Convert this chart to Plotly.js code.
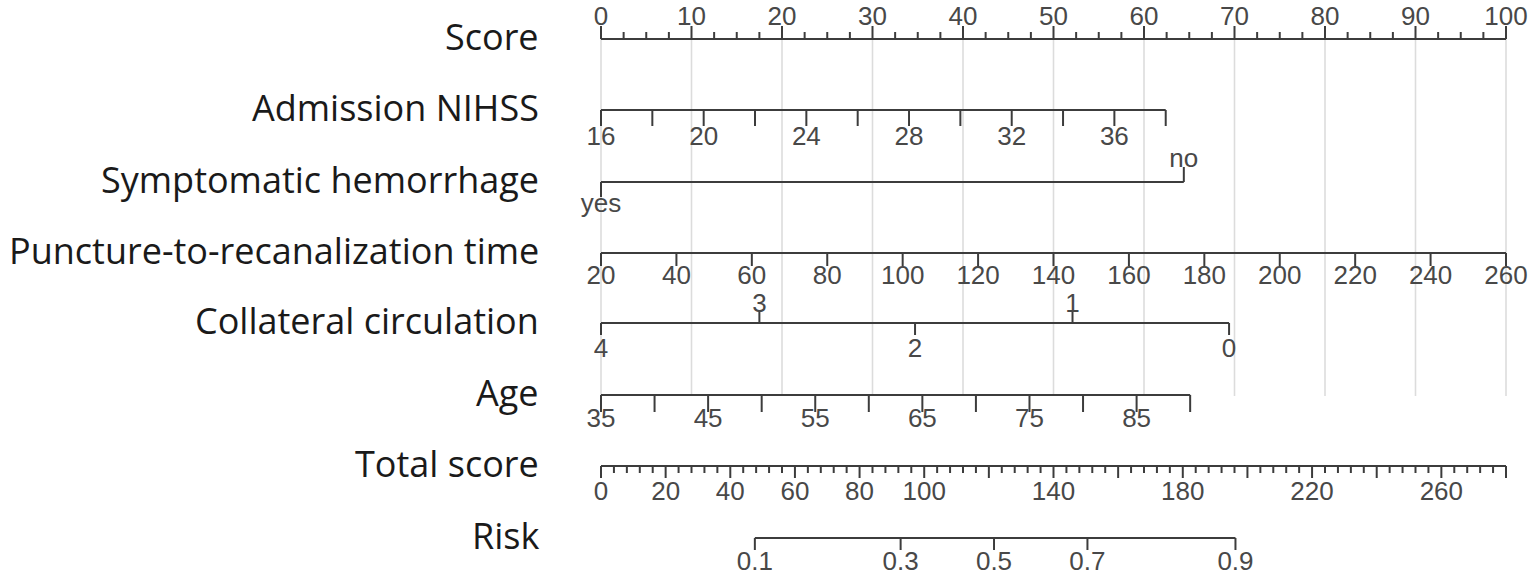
<!DOCTYPE html>
<html><head><meta charset="utf-8">
<script src="https://cdn.plot.ly/plotly-3.0.1.min.js"></script>
<style>html,body{margin:0;padding:0;background:#fff}#chart{width:1537px;height:579px}</style>
</head><body><div id="chart"></div>
<script>
// ---------------- data ----------------
const rowNames = ["Score","Admission NIHSS","Symptomatic hemorrhage","Puncture-to-recanalization time","Collateral circulation","Age","Total score","Risk"];

const scoreMajor = [0,10,20,30,40,50,60,70,80,90,100];
const scoreMinorStep = 2.5;

const nihssTicks = [16,18,20,22,24,26,28,30,32,34,36,38];
const nihssLabels = [16,20,24,28,32,36];
const nihssRange = [16,38];
const nihssPoints = [0,62.4];

const hemLevels = ["yes","no"];
const hemPoints = [0,64.4];
const hemSide = ["below","above"];

const punctTicks = [20,40,60,80,100,120,140,160,180,200,220,240,260];
const punctRange = [20,260];
const punctPoints = [0,100];

const collLevels = ["4","3","2","1","0"];
const collPoints = [0,17.5,34.7,52.1,69.4];
const collSide = ["below","above","below","above","below"];

const ageTicks = [35,40,45,50,55,60,65,70,75,80,85,90];
const ageLabels = [35,45,55,65,75,85];
const ageRange = [35,90];
const agePoints = [0,65.1];

const totalRange = [0,280];
const totalMinorStep = 4;
const totalMajorStep = 20;
const totalLabels = [0,20,40,60,80,100,140,180,220,260];

const riskValues = [0.1,0.3,0.5,0.7,0.9];
const riskTotals = [47.6,92.7,121.6,150.5,196.3];

// ---------------- layout helpers ----------------
const W = 1537, H = 579, X0 = 601, PX = 9.05;
const rowY = [39,110,182,253,323,395,466,538];
const LINE = '#3c3c3c', GRID = '#dcdcdc', TXT = '#484848';
const lin = (v, r, p) => p[0] + (v - r[0]) * (p[1] - p[0]) / (r[1] - r[0]);
const totalToPts = t => lin(t, totalRange, [0,100]);

const traces = [];
function segTrace(xs, ys, color, width){
  traces.push({type:'scatter', mode:'lines', x:xs, y:ys, line:{color:color, width:width}, hoverinfo:'skip', showlegend:false});
}
const sx=[], sy=[];
function seg(x1,y1,x2,y2){ sx.push(x1,x2,null); sy.push(y1,y2,null); }
const tx=[], ty=[], tt=[];
function lab(x,y,t){ tx.push(x); ty.push(y); tt.push(String(t)); }

// grid
const gx=[], gy=[];
scoreMajor.forEach(s=>{ gx.push(s,s,null); gy.push(rowY[0], rowY[5]+1, null); });
segTrace(gx, gy, GRID, 1.6);

// Score row
{ const y=rowY[0]; seg(0,y,100,y);
  for(let s=0; s<=100+1e-9; s+=scoreMinorStep){
    const major = scoreMajor.includes(s);
    seg(s,y,s,y-(major?13:7));
  }
  scoreMajor.forEach(s=>lab(s,y-21,s));
}
// NIHSS
{ const y=rowY[1]; const p=v=>lin(v,nihssRange,nihssPoints);
  seg(p(nihssRange[0]),y,p(nihssRange[1]),y);
  nihssTicks.forEach(v=>seg(p(v),y,p(v),y+16));
  nihssLabels.forEach(v=>lab(p(v),y+28,v));
}
// Hemorrhage
{ const y=rowY[2];
  seg(hemPoints[0],y,hemPoints[hemPoints.length-1],y);
  hemLevels.forEach((l,i)=>{ const up = hemSide[i]==='above';
    seg(hemPoints[i],y,hemPoints[i],y+(up?-15:15)); lab(hemPoints[i],y+(up?-22:23),l); });
}
// Puncture
{ const y=rowY[3]; const p=v=>lin(v,punctRange,punctPoints);
  seg(p(punctRange[0]),y,p(punctRange[1]),y);
  punctTicks.forEach(v=>{ seg(p(v),y,p(v),y+13); lab(p(v),y+24,v); });
}
// Collateral
{ const y=rowY[4];
  seg(collPoints[0],y,collPoints[collPoints.length-1],y);
  collLevels.forEach((l,i)=>{ const up = collSide[i]==='above';
    seg(collPoints[i],y,collPoints[i],y+(up?-12:12)); lab(collPoints[i],y+(up?-18:27),l); });
}
// Age
{ const y=rowY[5]; const p=v=>lin(v,ageRange,agePoints);
  seg(p(ageRange[0]),y,p(ageRange[1]),y);
  ageTicks.forEach(v=>seg(p(v),y,p(v),y+17));
  ageLabels.forEach(v=>lab(p(v),y+25,v));
}
// Total score
{ const y=rowY[6];
  seg(totalToPts(totalRange[0]),y,totalToPts(totalRange[1]),y);
  for(let t=totalRange[0]; t<=totalRange[1]+1e-9; t+=totalMinorStep){
    const major = Math.abs(t/totalMajorStep - Math.round(t/totalMajorStep))<1e-9;
    seg(totalToPts(t),y,totalToPts(t),y+(major?12:7));
  }
  totalLabels.forEach(v=>lab(totalToPts(v),y+27,v));
}
// Risk
{ const y=rowY[7]; const xs=riskTotals.map(totalToPts);
  seg(xs[0],y,xs[xs.length-1],y);
  riskValues.forEach((v,i)=>{ seg(xs[i],y,xs[i],y+12); lab(xs[i],y+25,v.toFixed(1)); });
}

segTrace(sx, sy, LINE, 2);
traces.push({type:'scatter', mode:'text', x:tx, y:ty, text:tt, textposition:'middle center',
  textfont:{family:'Liberation Sans, Arial, sans-serif', size:26, color:TXT}, hoverinfo:'skip', showlegend:false, cliponaxis:false});

const annotations = rowNames.map((n,i)=>({
  text:n, xref:'paper', yref:'y', x:541/W, y:rowY[i]-3, xanchor:'right', yanchor:'middle', showarrow:false,
  font:{family:'Open Sans, sans-serif', size:36, color:'#1a1a1a'}
}));

const layout = {
  width:W, height:H, margin:{l:0,r:0,t:0,b:0}, paper_bgcolor:'#fff', plot_bgcolor:'#fff',
  xaxis:{range:[-X0/PX,(W-X0)/PX], visible:false, fixedrange:true},
  yaxis:{range:[H,0], visible:false, fixedrange:true},
  showlegend:false, annotations:annotations
};
Plotly.newPlot('chart', traces, layout, {staticPlot:true, displayModeBar:false});
</script></body></html>
